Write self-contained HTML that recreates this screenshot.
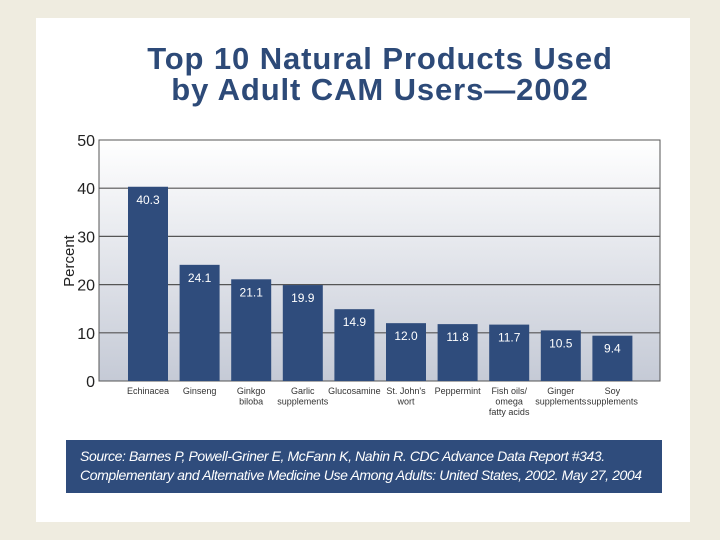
<!DOCTYPE html>
<html><head><meta charset="utf-8"><style>
body{margin:0;width:720px;height:540px;background:#efece0;font-family:"Liberation Sans",sans-serif;overflow:hidden}
#panel{position:absolute;left:36px;top:18px;width:654px;height:504px;background:#fff}
#title{position:absolute;left:0;width:760px;top:43px;text-align:center;color:#2d4a78;font-weight:bold;font-size:31px;line-height:31px;letter-spacing:0.9px;white-space:nowrap}
#src{position:absolute;left:66px;top:440px;width:596px;height:53px;background:#2f4c7c;color:#fff;font-style:italic;font-size:14px;line-height:19px;box-sizing:border-box;padding:7px 0 0 14px;letter-spacing:-0.4px;white-space:nowrap;overflow:hidden}
</style></head><body>
<div id="panel"></div>
<div id="title">Top 10 Natural Products Used<br>by Adult CAM Users—2002</div>
<svg id="chart" width="720" height="540" style="position:absolute;left:0;top:0">
<defs><linearGradient id="bg" x1="0" y1="0" x2="0" y2="1"><stop offset="0" stop-color="#ffffff"/><stop offset="1" stop-color="#c5cad6"/></linearGradient></defs>
</svg>
<div id="src">Source: Barnes P, Powell-Griner E, McFann K, Nahin R. CDC Advance Data Report #343.<br>Complementary and Alternative Medicine Use Among Adults: United States, 2002. May 27, 2004</div>
<script>
const categories=[["Echinacea"],["Ginseng"],["Ginkgo","biloba"],["Garlic","supplements"],["Glucosamine"],["St. John's","wort"],["Peppermint"],["Fish oils/","omega","fatty acids"],["Ginger","supplements"],["Soy","supplements"]];
const values=[40.3,24.1,21.1,19.9,14.9,12.0,11.8,11.7,10.5,9.4];
const ticks=[0,10,20,30,40,50];
const svg=document.getElementById('chart');const NS='http://www.w3.org/2000/svg';
const L=99,R=660,T=140,B=381,max=50;
const y=v=>B-(B-T)*v/max;
const step=51.6,x0=128,bw=40;
const x=i=>x0+i*step;
function mk(t,a,name){const e=document.createElementNS(NS,t);for(const k in a)e.setAttribute(k,a[k]);


svg.appendChild(e);return e;}
mk('rect',{x:L,y:T,width:R-L,height:B-T,fill:'url(#bg)',stroke:'#555','stroke-width':1},'plot-area');
ticks.forEach(t=>{
 if(t>0&&t<50)mk('line',{x1:L,x2:R,y1:y(t),y2:y(t),stroke:'#555','stroke-width':1.2},'gridline');
 const tx=mk('text',{x:95,y:y(t)+6,'text-anchor':'end','font-size':16,fill:'#222','font-family':'Liberation Sans'},'y-tick-label');tx.textContent=t;
});
const yt=mk('text',{x:74,y:261,'text-anchor':'middle','font-size':15,fill:'#222',transform:'rotate(-90 74 261)'},'y-axis-title');yt.textContent='Percent';
values.forEach((v,i)=>{
 mk('rect',{x:x(i),y:y(v),width:bw,height:B-y(v),fill:'#2f4c7c'},'bar');
 const t=mk('text',{x:x(i)+bw/2,y:y(v)+17,'text-anchor':'middle','font-size':12,fill:'#fff'},'bar-value');t.textContent=v.toFixed(1);
 categories[i].forEach((s,j)=>{const c=mk('text',{x:x(i)+bw/2,y:394+j*10.5,'text-anchor':'middle','font-size':9,fill:'#333'},'category-label');c.textContent=s;});
});
</script>
</body></html>
